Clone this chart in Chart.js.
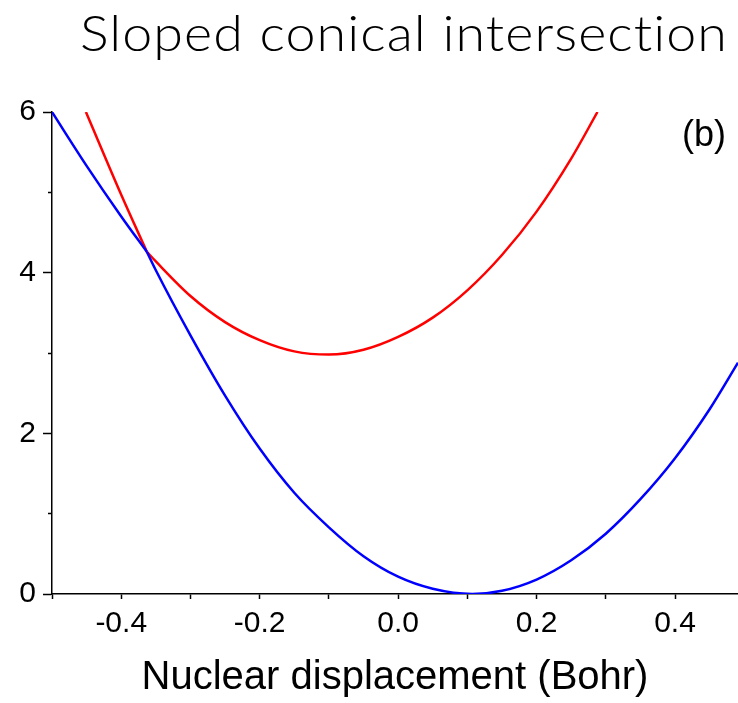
<!DOCTYPE html>
<html>
<head>
<meta charset="utf-8">
<script src="https://cdn.jsdelivr.net/npm/chart.js@4.4.1/dist/chart.umd.min.js"></script>
<style>
  html, body { margin: 0; padding: 0; background: #fff; }
  #wrap { width: 738px; height: 703px; }
</style>
</head>
<body>
<div id="wrap"><canvas id="pes" width="738" height="703"></canvas></div>
<script>
// chart title, drawn top right above the plot
const chartTitle = "Sloped conical intersection";
const panelTag = "(b)";
const xAxisTitle = "Nuclear displacement (Bohr)";

// lower (blue) potential curve, read along the displacement axis
const lowerX = [-0.5, -0.45, -0.4, -0.363, -0.35, -0.3, -0.25, -0.2, -0.15, -0.1, -0.05, 0.0, 0.05, 0.107, 0.15, 0.2, 0.25, 0.3, 0.35, 0.4, 0.45, 0.491];
const lowerY = [6.0, 5.33, 4.70, 4.26, 4.03, 3.22, 2.47, 1.81, 1.26, 0.83, 0.47, 0.215, 0.065, 0.0, 0.04, 0.18, 0.42, 0.75, 1.18, 1.69, 2.30, 2.88];

// upper (red) potential curve
const upperX = [-0.451, -0.4, -0.363, -0.35, -0.3, -0.25, -0.2, -0.15, -0.1, -0.05, 0.0, 0.05, 0.1, 0.15, 0.2, 0.25, 0.288];
const upperY = [6.0, 4.97, 4.26, 4.14, 3.71, 3.385, 3.16, 3.02, 2.98, 3.04, 3.20, 3.44, 3.78, 4.22, 4.76, 5.42, 6.0];

// the two curves touch here, both have a kink at that point
const crossX = -0.363;

// axis ranges and ticks
const xMin = -0.5, xMax = 0.491, xStep = 0.1;
const yMin = 0, yMax = 6, yStep = 1;
const xLabelled = [-0.4, -0.2, 0.0, 0.2, 0.4];
const yLabelled = [0, 2, 4, 6];

const fontFace = "'Liberation Sans', Arial, sans-serif";

// turn x/y lists into point objects, split at the crossing so the kink stays sharp
function toPoints (xs, ys) { return xs.map((x, i) => ({x: x, y: ys[i]})); }
function leftOf (xs, ys) { const k = xs.indexOf(crossX); return toPoints(xs.slice(0, k + 1), ys.slice(0, k + 1)); }
function rightOf (xs, ys) { const k = xs.indexOf(crossX); return toPoints(xs.slice(k), ys.slice(k)); }

function curve (points, color) {
    return {
        data: points,
        borderColor: color,
        borderWidth: 2.5,
        pointRadius: 0,
        fill: false,
        cubicInterpolationMode: 'monotone'
    };
}

function isLabelled (value, list) { return list.some((v) => Math.abs(v - value) < 1e-6); }

// title (stretched to a fixed width) and panel tag
const textPlugin = {
    id: 'panelText',
    afterDraw (chart) {
        const ctx = chart.ctx, area = chart.chartArea;
        ctx.save();
        ctx.fillStyle = '#000';
        ctx.font = "300 50px Lato, 'Open Sans', sans-serif";
        ctx.letterSpacing = '1px';
        ctx.textAlign = 'right';
        ctx.textBaseline = 'alphabetic';
        const right = chart.width - 10, titleWidth = 648;
        const sx = titleWidth / ctx.measureText(chartTitle).width;
        ctx.translate(right, 51);
        ctx.scale(sx, 1);
        ctx.fillText(chartTitle, 0, 0);
        ctx.restore();

        ctx.save();
        ctx.fillStyle = '#000';
        ctx.font = "36px " + fontFace;
        ctx.textAlign = 'right';
        ctx.textBaseline = 'middle';
        ctx.fillText(panelTag, area.right - 12, area.top + 24);
        ctx.restore();
    }
};

const chart = new Chart("pes", {
    type: 'line',
    data: {
        datasets: [
            curve(leftOf(lowerX, lowerY), '#0000ff'),
            curve(rightOf(lowerX, lowerY), '#0000ff'),
            curve(leftOf(upperX, upperY), '#ff0000'),
            curve(rightOf(upperX, upperY), '#ff0000')
        ]
    },
    options: {
        responsive: false,
        animation: false,
        events: [],
        layout: { padding: { top: 112, right: 0, bottom: 0, left: 0 } },
        plugins: { legend: { display: false }, tooltip: { enabled: false }, title: { display: false } },
        scales: {
            x: {
                type: 'linear',
                min: xMin, max: xMax,
                afterFit (scale) { scale.height = 109; },
                border: { display: true, color: '#000', width: 1.5 },
                grid: { drawOnChartArea: false, drawTicks: true, tickLength: 5, tickColor: '#000', tickWidth: 1.5 },
                ticks: {
                    stepSize: xStep, includeBounds: false, autoSkip: false, maxRotation: 0,
                    color: '#000', padding: 7, font: { family: fontFace, size: 30 },
                    callback: (v) => isLabelled(v, xLabelled) ? v.toFixed(1) : ''
                },
                title: {
                    display: true, text: xAxisTitle, color: '#000',
                    font: { family: fontFace, size: 40, lineHeight: 1.2 },
                    padding: { top: 4, bottom: 1 }
                }
            },
            y: {
                type: 'linear',
                min: yMin, max: yMax,
                afterFit (scale) { scale.width = 52; },
                border: { display: true, color: '#000', width: 1.5 },
                grid: {
                    drawOnChartArea: false, drawTicks: true, tickLength: 9, tickColor: '#000', tickWidth: 1.5,
                    // minor ticks: only the inner 4px of the 9px tick is drawn
                    tickBorderDash: (ctx) => isLabelled(ctx.tick.value, yLabelled) ? [] : [0, 5, 9]
                },
                ticks: {
                    stepSize: yStep, autoSkip: false, color: '#000', padding: 7,
                    font: { family: fontFace, size: 30 },
                    callback: (v) => isLabelled(v, yLabelled) ? String(v) : ''
                }
            }
        }
    },
    plugins: [textPlugin]
});
</script>
</body>
</html>
